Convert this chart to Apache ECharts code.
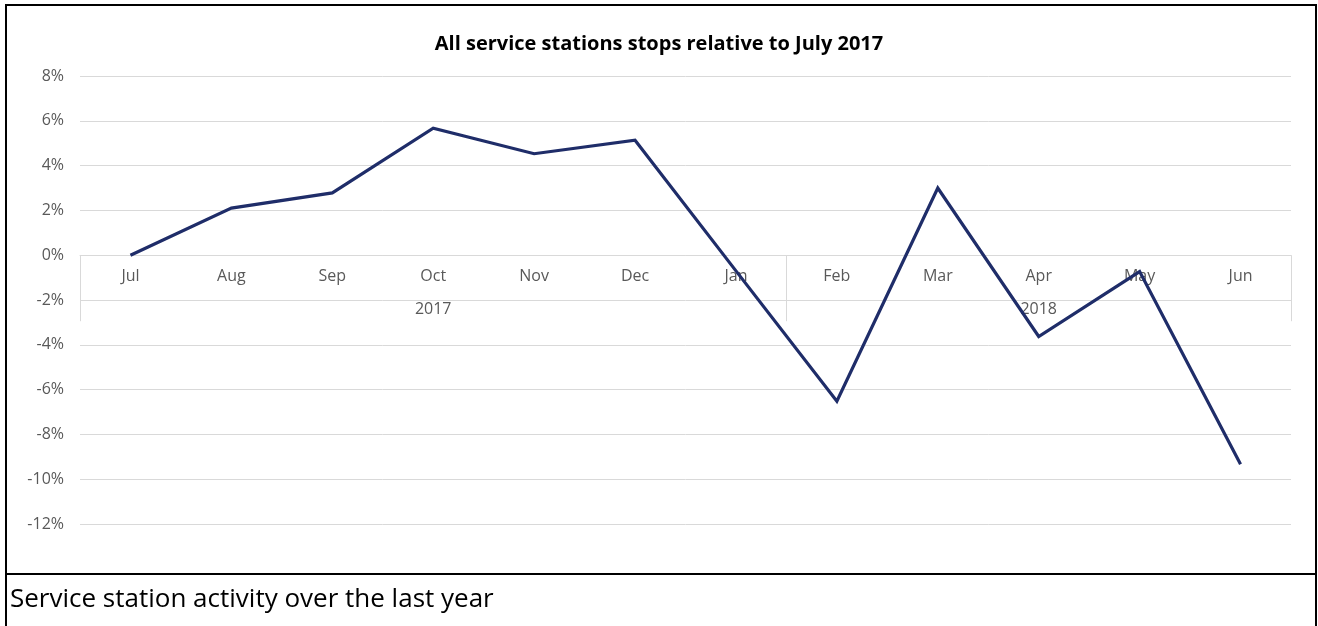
<!DOCTYPE html>
<html>
<head>
<meta charset="utf-8">
<title>Service station activity</title>
<script src="https://cdn.jsdelivr.net/npm/echarts@6/dist/echarts.min.js"></script>
<style>
  html, body { margin: 0; padding: 0; background: #fff; width: 1318px; height: 626px; overflow: hidden; }
  #chart { position: absolute; left: 0; top: 0; width: 1318px; height: 626px; }
  #frame { position: absolute; left: 5px; top: 4px; width: 1312px; height: 700px; border: 2px solid #000; box-sizing: border-box; pointer-events: none; }
  #divider { position: absolute; left: 5px; top: 573px; width: 1312px; height: 2px; background: #000; }
  #caption { position: absolute; left: 10px; top: 582px; font-family: "Open Sans", Lato, sans-serif; font-size: 26px; line-height: 30px; color: #000; white-space: nowrap; }
</style>
</head>
<body>
<div id="chart"></div>
<div id="frame"></div>
<div id="divider"></div>
<div id="caption">Service station activity over the last year</div>
<script>
// Monthly categories, July 2017 to June 2018
const months = ['Jul', 'Aug', 'Sep', 'Oct', 'Nov', 'Dec', 'Jan', 'Feb', 'Mar', 'Apr', 'May', 'Jun'];
// Year groups and how many months each covers
const years = ['2017', '2018'];
const yearSpans = [7, 5];
// Change in stops relative to July 2017, percent
const stopsChange = [0, 2.1, 2.78, 5.67, 4.53, 5.13, -0.7, -6.52, 3.0, -3.63, -0.73, -9.33];
// Value axis range and step, percent
const yMin = -12;
const yMax = 8;
const yStep = 2;

const FONT = '"Open Sans", Lato, sans-serif';
const LABEL_GREY = '#595959';
const GRID_GREY = '#d9d9d9';

const GRID_TOP = 76;
const GRID_BOTTOM = 102;
const CHART_H = 626;

// Index where each year group starts, and the month under which its label sits
const groupStarts = [];
const yearAtIndex = {};
let start = 0;
years.forEach((y, k) => {
  groupStarts.push(start);
  yearAtIndex[start + Math.floor((yearSpans[k] - 1) / 2)] = y;
  start += yearSpans[k];
});

// Pixel distance from the bottom of the plot up to the zero line
const plotH = CHART_H - GRID_TOP - GRID_BOTTOM;
const zeroLift = plotH * (0 - yMin) / (yMax - yMin);

const chart = echarts.init(document.getElementById('chart'), null, { renderer: 'canvas' });

chart.setOption({
  animation: false,
  backgroundColor: 'transparent',
  title: {
    text: 'All service stations stops relative to July 2017',
    left: 'center',
    top: 29,
    textStyle: { fontFamily: FONT, fontWeight: 'bold', fontSize: 20, color: '#000' }
  },
  grid: { left: 80, right: 27, top: GRID_TOP, bottom: GRID_BOTTOM },
  xAxis: [
    {
      // zero line with the year-group separators
      type: 'category',
      data: months,
      boundaryGap: true,
      axisLine: { show: true, onZero: true, lineStyle: { color: GRID_GREY, width: 1 } },
      axisTick: {
        show: true,
        length: 66,
        interval: (i) => groupStarts.indexOf(i) !== -1,
        lineStyle: { color: GRID_GREY, width: 1 }
      },
      axisLabel: { show: false },
      splitLine: { show: false }
    },
    {
      // month and year labels, lifted up to sit under the zero line
      type: 'category',
      data: months,
      boundaryGap: true,
      position: 'bottom',
      offset: -zeroLift,
      axisLine: { show: false, onZero: false },
      axisTick: { show: false },
      axisLabel: {
        interval: 0,
        margin: 5,
        color: LABEL_GREY,
        fontFamily: FONT,
        fontSize: 16,
        lineHeight: 33,
        formatter: (value, index) =>
          yearAtIndex[index] ? value + '\n{yr|' + yearAtIndex[index] + '}' : value,
        rich: {
          yr: { color: LABEL_GREY, fontFamily: FONT, fontSize: 16, lineHeight: 33 }
        }
      },
      splitLine: { show: false }
    }
  ],
  yAxis: {
    type: 'value',
    min: yMin,
    max: yMax,
    interval: yStep,
    axisLine: { show: false },
    axisTick: { show: false },
    axisLabel: { formatter: '{value}%', color: LABEL_GREY, fontFamily: FONT, fontSize: 16, margin: 16 },
    splitLine: { lineStyle: { color: GRID_GREY, width: 1 } }
  },
  series: [{
    type: 'line',
    xAxisIndex: 0,
    data: stopsChange,
    showSymbol: false,
    symbol: 'none',
    lineStyle: { color: '#1f2d69', width: 3.2, join: 'miter' },
    z: 3
  }]
});
</script>
</body>
</html>
